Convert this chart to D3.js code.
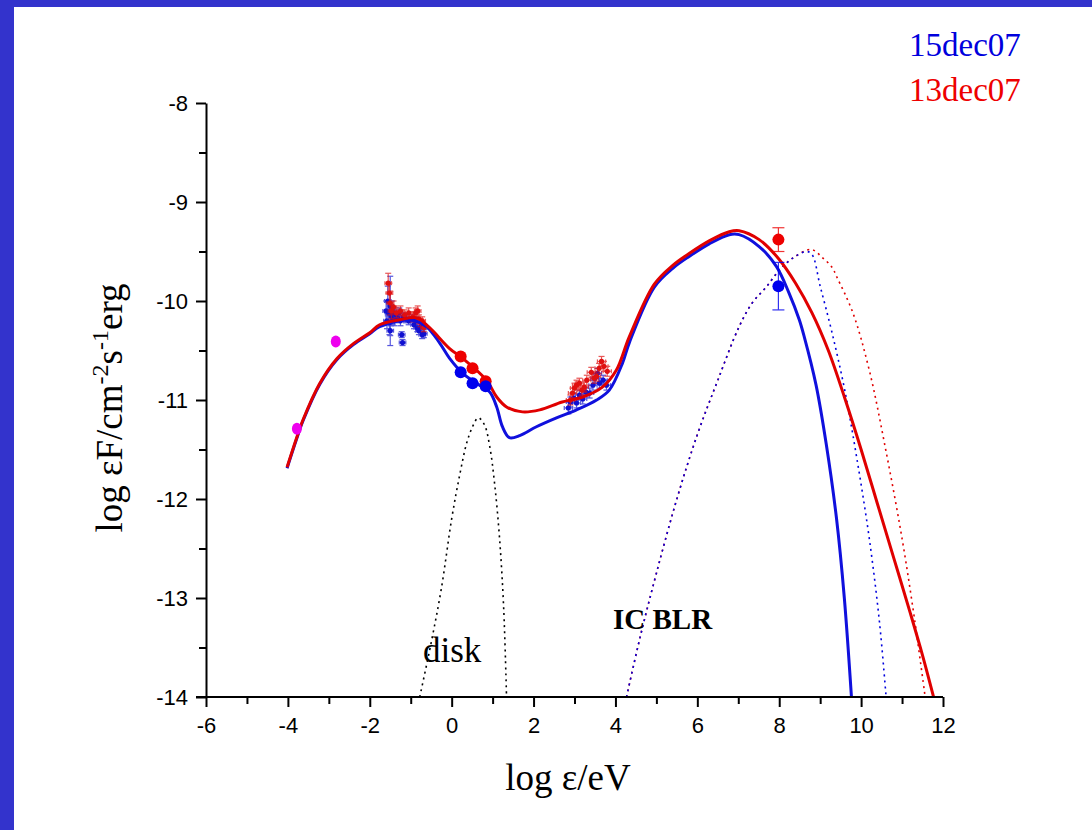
<!DOCTYPE html>
<html>
<head>
<meta charset="utf-8">
<title>SED 15dec07 / 13dec07</title>
<script src="https://d3js.org/d3.v7.min.js"></script>
<style>
  body { margin: 0; background: #fff; }
  svg { display: block; }
</style>
</head>
<body>
<svg id="chart" width="1092" height="830"></svg>
<script>
// ---- data ----
const xTicks = [-6, -4, -2, 0, 2, 4, 6, 8, 10, 12];
const yTicks = [-14, -13, -12, -11, -10, -9, -8];

// model curves [log eps, log eF]
const redFit = [[-4.02,-11.68],[-3.8,-11.4],[-3.63,-11.2],[-3.22,-10.83],[-2.8,-10.58],[-2.4,-10.43],
  [-2.0,-10.32],[-1.76,-10.24],[-1.27,-10.19],[-0.85,-10.17],[-0.54,-10.27],[-0.05,-10.48],[0.27,-10.58],
  [0.85,-10.8],[1.1,-10.97],[1.34,-11.07],[1.73,-11.12],[2.15,-11.1],[2.7,-11.02],[3.2,-10.97],[3.68,-10.87],
  [4.02,-10.7],[4.34,-10.36],[4.95,-9.83],[5.4,-9.64],[5.8,-9.52],[6.3,-9.39],[6.78,-9.3],[7.02,-9.29],
  [7.51,-9.38],[8.0,-9.58],[8.4,-9.82],[8.8,-10.12],[9.2,-10.5],[9.6,-10.98],[10.0,-11.5],[10.4,-12.05],
  [10.8,-12.6],[11.2,-13.15],[11.5,-13.58],[11.82,-14.08]];
const blueFit = [[-4.02,-11.69],[-3.8,-11.41],[-3.63,-11.21],[-3.22,-10.84],[-2.8,-10.59],[-2.4,-10.44],
  [-2.0,-10.33],[-1.76,-10.26],[-1.27,-10.2],[-0.9,-10.2],[-0.61,-10.26],[-0.3,-10.42],[-0.05,-10.58],
  [0.27,-10.73],[0.68,-10.85],[0.93,-10.92],[1.1,-11.07],[1.24,-11.27],[1.41,-11.38],[1.66,-11.36],
  [2.07,-11.27],[2.56,-11.18],[3.05,-11.1],[3.54,-11.0],[3.85,-10.9],[4.17,-10.63],[4.34,-10.42],
  [4.95,-9.86],[5.4,-9.67],[5.8,-9.55],[6.3,-9.42],[6.78,-9.33],[7.02,-9.33],[7.51,-9.45],[7.93,-9.65],
  [8.24,-9.92],[8.49,-10.19],[8.61,-10.36],[8.9,-10.85],[9.15,-11.45],[9.4,-12.2],[9.59,-13.0],[9.78,-14.1]];
const blueBLR = [[4.27,-14],[4.6,-13.4],[5.0,-12.75],[5.5,-12.0],[6.0,-11.35],[6.5,-10.8],[7.02,-10.26],
  [7.34,-10.02],[7.68,-9.86],[8.0,-9.69],[8.32,-9.57],[8.66,-9.5],[8.8,-9.53],[9.0,-9.85],[9.29,-10.32],
  [9.6,-10.9],[9.9,-11.6],[10.2,-12.4],[10.45,-13.25],[10.62,-14.05]];
const redBLR = [[4.27,-14],[4.6,-13.4],[5.0,-12.75],[5.5,-12.0],[6.0,-11.35],[6.5,-10.8],[7.02,-10.26],
  [7.34,-10.02],[7.68,-9.86],[8.0,-9.69],[8.32,-9.57],[8.78,-9.48],[9.05,-9.56],[9.29,-9.66],[9.41,-9.76],
  [9.8,-10.12],[10.2,-10.7],[10.6,-11.5],[11.0,-12.4],[11.3,-13.2],[11.58,-14.05]];
const diskCurve = [[-0.78,-14],[-0.5,-13.45],[-0.25,-12.9],[0,-12.2],[0.2,-11.75],[0.37,-11.43],
  [0.51,-11.27],[0.65,-11.18],[0.8,-11.25],[0.93,-11.47],[1.05,-11.85],[1.17,-12.4],[1.27,-13.1],[1.34,-14]];

// big symbols [x, y, yErr]
const redBig = [[0.22,-10.56,0],[0.51,-10.68,0],[0.83,-10.81,0],[7.98,-9.38,0.12]];
const blueBig = [[0.22,-10.72,0],[0.51,-10.83,0],[0.83,-10.86,0],[7.98,-9.85,0.24]];
const magenta = [[-3.78,-11.29],[-2.83,-10.41]];

// small points with error bars [x, y, xErr, yErr]
const blueSmall = [[-1.6,-10.1,0.08,0.1],[-1.58,-10.2,0.08,0.08],[-1.56,-10.0,0.08,0.15],[-1.54,-10.12,0.08,0.1],
  [-1.52,-10.22,0.08,0.12],[-1.5,-10.05,0.08,0.3],[-1.5,-10.3,0.08,0.15],[-1.48,-10.15,0.08,0.1],
  [-1.46,-10.08,0.08,0.08],[-1.44,-10.18,0.08,0.06],[-1.42,-10.12,0.08,0.06],[-1.4,-10.2,0.08,0.05],
  [-1.36,-10.14,0.08,0.05],[-1.32,-10.17,0.08,0.05],[-1.28,-10.12,0.08,0.05],[-1.25,-10.2,0.08,0.05],
  [-1.22,-10.34,0.08,0.03],[-1.2,-10.42,0.08,0.03],[-1.18,-10.16,0.08,0.04],[-1.12,-10.18,0.08,0.04],
  [-1.05,-10.2,0.08,0.04],[-0.98,-10.18,0.08,0.04],[-0.92,-10.24,0.08,0.04],[-0.88,-10.2,0.08,0.04],
  [-0.84,-10.27,0.08,0.04],[-0.8,-10.3,0.08,0.04],[-0.76,-10.26,0.08,0.04],[-0.72,-10.34,0.08,0.04],
  [-0.68,-10.33,0.08,0.04],
  [2.85,-11.08,0.1,0.06],[2.9,-11.02,0.1,0.05],[2.98,-10.98,0.1,0.05],[3.05,-11.03,0.1,0.05],
  [3.12,-10.95,0.1,0.05],[3.2,-10.99,0.1,0.05],[3.28,-10.92,0.1,0.05],[3.37,-10.93,0.1,0.05],
  [3.45,-10.85,0.1,0.05],[3.5,-10.78,0.1,0.05],[3.56,-10.73,0.1,0.05],[3.61,-10.83,0.1,0.05],
  [3.7,-10.8,0.1,0.05],[3.78,-10.85,0.1,0.05]];
const redSmall = [[-1.55,-9.82,0.08,0.1],[-1.52,-9.92,0.08,0.1],[-1.5,-10.02,0.08,0.12],[-1.47,-10.1,0.08,0.08],
  [-1.42,-10.06,0.08,0.06],[-1.35,-10.12,0.08,0.05],[-1.25,-10.1,0.08,0.05],[-1.15,-10.14,0.08,0.05],
  [-1.05,-10.12,0.08,0.05],[-0.95,-10.16,0.08,0.05],[-0.88,-10.12,0.08,0.05],[-0.83,-10.1,0.08,0.05],
  [-0.8,-10.18,0.08,0.04],[-0.76,-10.22,0.08,0.04],[-0.72,-10.2,0.08,0.04],[-0.68,-10.27,0.08,0.04],
  [2.9,-11.0,0.1,0.05],[2.95,-10.93,0.1,0.05],[3.0,-10.88,0.1,0.05],[3.05,-10.85,0.1,0.05],
  [3.12,-10.83,0.1,0.05],[3.18,-10.9,0.1,0.05],[3.24,-10.87,0.1,0.05],[3.3,-10.8,0.1,0.05],
  [3.41,-10.72,0.1,0.05],[3.48,-10.78,0.1,0.05],[3.54,-10.76,0.1,0.05],[3.6,-10.68,0.1,0.05],
  [3.66,-10.61,0.1,0.05],[3.72,-10.66,0.1,0.05],[3.8,-10.71,0.1,0.05]];

// ---- drawing ----
const svg = d3.select("#chart");
svg.append("rect").attr("x", 0).attr("y", 0).attr("width", 1092).attr("height", 7).attr("fill", "#3333cc");
svg.append("rect").attr("x", 0).attr("y", 0).attr("width", 14).attr("height", 830).attr("fill", "#3333cc");

const x = d3.scaleLinear().domain([-6, 12]).range([206, 943]);
const y = d3.scaleLinear().domain([-14, -8]).range([697, 103]);

svg.append("clipPath").attr("id", "plot")
  .append("rect").attr("x", x(-6)).attr("y", y(-8) - 40).attr("width", x(12) - x(-6)).attr("height", y(-14) - y(-8) + 40);

const g = svg.append("g").attr("clip-path", "url(#plot)");
const line = d3.line().x(d => x(d[0])).y(d => y(d[1])).curve(d3.curveCatmullRom.alpha(0.5));

function curve(data, color, width, dash) {
  g.append("path").attr("d", line(data)).attr("fill", "none")
    .attr("stroke", color).attr("stroke-width", width)
    .attr("stroke-dasharray", dash || null);
}
curve(diskCurve, "#000", 1.6, "2,4");
curve(redBLR, "#e00000", 1.6, "2,4");
curve(blueBLR, "#0000dd", 1.6, "2,4");

function errPoints(data, color, r) {
  const s = g.append("g").attr("stroke", color).attr("stroke-width", 1.2).attr("opacity", 0.7);
  data.forEach(d => {
    const cx = x(d[0]), cy = y(d[1]);
    const x0 = x(d[0] - d[2]), x1 = x(d[0] + d[2]);
    const y0 = y(d[1] - d[3]), y1 = y(d[1] + d[3]);
    s.append("line").attr("x1", x0).attr("x2", x1).attr("y1", cy).attr("y2", cy);
    s.append("line").attr("x1", cx).attr("x2", cx).attr("y1", y0).attr("y2", y1);
    s.append("line").attr("x1", cx - 3).attr("x2", cx + 3).attr("y1", y0).attr("y2", y0);
    s.append("line").attr("x1", cx - 3).attr("x2", cx + 3).attr("y1", y1).attr("y2", y1);
    s.append("line").attr("x1", x0).attr("x2", x0).attr("y1", cy - 2).attr("y2", cy + 2);
    s.append("line").attr("x1", x1).attr("x2", x1).attr("y1", cy - 2).attr("y2", cy + 2);
  });
  g.append("g").selectAll("circle").data(data).join("circle")
    .attr("cx", d => x(d[0])).attr("cy", d => y(d[1])).attr("r", r).attr("fill", color);
}
errPoints(blueSmall, "#1010d0", 2.6);
errPoints(redSmall, "#e01010", 2.6);

curve(blueFit, "#1010dd", 3);
curve(redFit, "#e00000", 3);

function bigPoints(data, color) {
  const s = g.append("g").attr("stroke", color).attr("stroke-width", 1.2).attr("opacity", 0.8);
  data.filter(d => d[2] > 0).forEach(d => {
    const cx = x(d[0]), y0 = y(d[1] - d[2]), y1 = y(d[1] + d[2]);
    s.append("line").attr("x1", cx).attr("x2", cx).attr("y1", y0).attr("y2", y1);
    s.append("line").attr("x1", cx - 6).attr("x2", cx + 6).attr("y1", y0).attr("y2", y0);
    s.append("line").attr("x1", cx - 6).attr("x2", cx + 6).attr("y1", y1).attr("y2", y1);
  });
  g.append("g").selectAll("circle").data(data).join("circle")
    .attr("cx", d => x(d[0])).attr("cy", d => y(d[1])).attr("r", 6).attr("fill", color);
}
bigPoints(redBig, "#ee0000");
bigPoints(blueBig, "#0000ee");

g.append("g").selectAll("ellipse").data(magenta).join("ellipse")
  .attr("cx", d => x(d[0])).attr("cy", d => y(d[1])).attr("rx", 5).attr("ry", 6).attr("fill", "#ee00ee");

// ---- axes ----
const axisFont = "'Liberation Sans', Arial, sans-serif";
const fmt = d => String(d);
const yAxis = svg.append("g").attr("transform", `translate(${x(-6)},0)`)
  .call(d3.axisLeft(y).tickValues(yTicks).tickSize(10).tickSizeOuter(0).tickPadding(8).tickFormat(fmt));
svg.append("g").attr("transform", `translate(${x(-6)},0)`)
  .call(d3.axisLeft(y).tickValues(d3.range(-13.5, -8, 1)).tickSize(7).tickSizeOuter(0).tickFormat(""))
  .call(a => a.select(".domain").remove());
const xAxis = svg.append("g").attr("transform", `translate(0,${y(-14)})`)
  .call(d3.axisBottom(x).tickValues(xTicks).tickSize(10).tickSizeOuter(0).tickPadding(10).tickFormat(fmt));
svg.append("g").attr("transform", `translate(0,${y(-14)})`)
  .call(d3.axisBottom(x).tickValues(d3.range(-5, 12, 2)).tickSize(7).tickSizeOuter(0).tickFormat(""))
  .call(a => a.select(".domain").remove());

svg.selectAll(".domain, .tick line").attr("stroke", "#000").attr("stroke-width", 2);
[yAxis, xAxis].forEach(a => a.selectAll("text")
  .attr("font-family", axisFont).attr("font-size", 22).attr("fill", "#000"));
xAxis.select(".domain").attr("d", `M${x(-6) - 10},0H${x(12)}`);

// ---- titles / labels ----
const serif = "'Liberation Serif', 'Times New Roman', serif";
const yt = svg.append("text").attr("transform", `translate(122,${y(-11) + 8}) rotate(-90)`)
  .attr("text-anchor", "middle").attr("font-family", serif).attr("font-size", 37).attr("fill", "#000");
yt.append("tspan").text("log \u03b5F/cm");
yt.append("tspan").attr("dy", -14).attr("font-size", 24).text("-2");
yt.append("tspan").attr("dy", 14).text("s");
yt.append("tspan").attr("dy", -14).attr("font-size", 24).text("-1");
yt.append("tspan").attr("dy", 14).text("erg");

svg.append("text").attr("x", 568).attr("y", 790).attr("text-anchor", "middle")
  .attr("font-family", serif).attr("font-size", 37).attr("fill", "#000").text("log \u03b5/eV");

svg.append("text").attr("x", 909).attr("y", 56).attr("font-family", serif).attr("font-size", 33)
  .attr("fill", "#0000dd").text("15dec07");
svg.append("text").attr("x", 909).attr("y", 101).attr("font-family", serif).attr("font-size", 33)
  .attr("fill", "#ee0000").text("13dec07");

svg.append("text").attr("x", 423).attr("y", 662).attr("font-family", serif).attr("font-size", 35)
  .attr("fill", "#000").text("disk");
svg.append("text").attr("x", 613).attr("y", 629).attr("font-family", serif).attr("font-size", 29)
  .attr("font-weight", "bold").attr("fill", "#000").text("IC BLR");
</script>
</body>
</html>
